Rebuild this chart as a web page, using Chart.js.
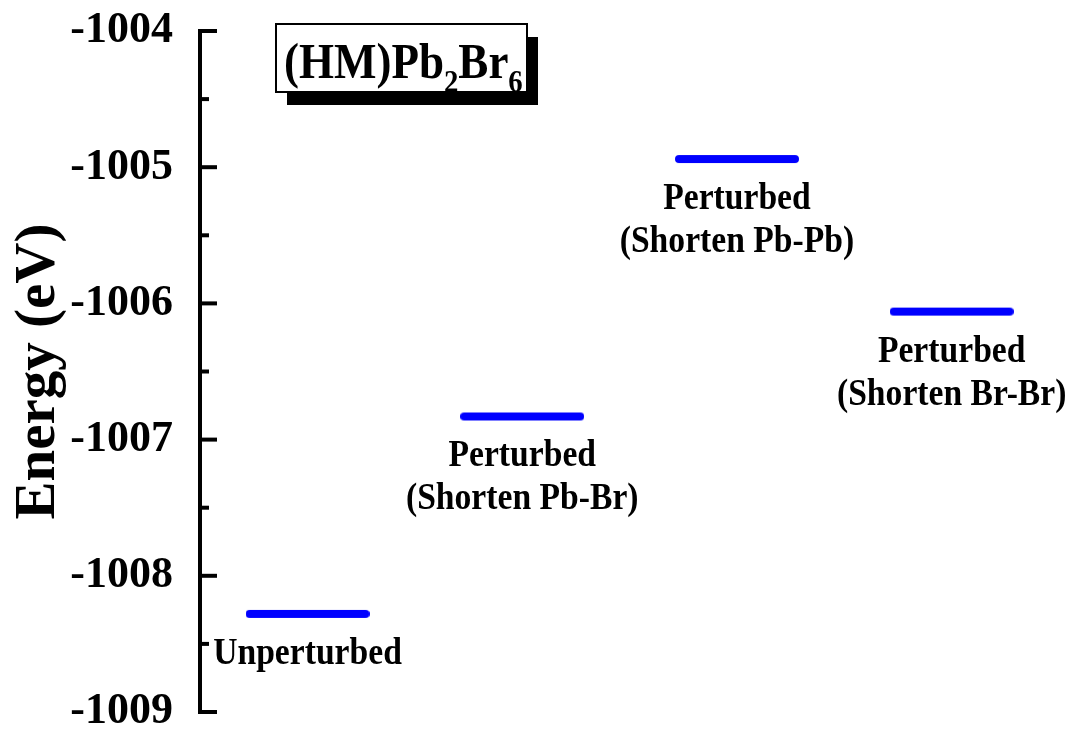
<!DOCTYPE html>
<html>
<head>
<meta charset="utf-8">
<title>(HM)Pb2Br6 energy levels</title>
<script src="https://cdn.jsdelivr.net/npm/chart.js@4.4.0/dist/chart.umd.min.js"></script>
<style>
  html, body { margin: 0; padding: 0; background: #fff; }
</style>
</head>
<body>
<canvas id="energyChart" width="1073" height="736"></canvas>
<script>
// Datos
const states = ['Unperturbed', 'Perturbed (Shorten Pb-Br)', 'Perturbed (Shorten Pb-Pb)', 'Perturbed (Shorten Br-Br)'];
const stateLines = [['Unperturbed'], ['Perturbed', '(Shorten Pb-Br)'], ['Perturbed', '(Shorten Pb-Pb)'], ['Perturbed', '(Shorten Br-Br)']];
const energies = [-1008.28, -1006.83, -1004.94, -1006.06];
const yTicks = [-1009, -1008, -1007, -1006, -1005, -1004];

const serif = '"Liberation Serif", "Times New Roman", serif';
const levelColor = '#0000ff';

// Marca de nivel: linea horizontal con extremos redondeados
const levelMark = document.createElement('canvas');
levelMark.width = 124;
levelMark.height = 12;
(function () {
    const c = levelMark.getContext('2d');
    c.strokeStyle = levelColor;
    c.lineWidth = 8;
    c.lineCap = 'round';
    c.beginPath();
    c.moveTo(4, 6);
    c.lineTo(120, 6);
    c.stroke();
})();

// Texto algo estrecho, como en la figura original
function drawNarrow(ctx, text, x, y, sx) {
    ctx.save();
    ctx.translate(x, y);
    ctx.scale(sx, 1);
    ctx.fillText(text, 0, 0);
    ctx.restore();
}

// Plugin: eje con marcas hacia dentro, etiquetas de cada nivel y recuadro del compuesto
const energyOverlay = {
    id: 'energyOverlay',
    afterDraw(chart) {
        const { ctx, chartArea } = chart;
        const x = chart.scales.x;
        const y = chart.scales.y;
        const axisX = chartArea.left + 2;

        ctx.save();
        ctx.strokeStyle = '#000';
        ctx.lineWidth = 4;
        ctx.lineCap = 'butt';

        // linea del eje
        const top = y.getPixelForValue(yTicks[yTicks.length - 1]);
        const bottom = y.getPixelForValue(yTicks[0]);
        ctx.beginPath();
        ctx.moveTo(axisX, top - 2);
        ctx.lineTo(axisX, bottom + 2);
        ctx.stroke();

        // marcas mayores y menores
        yTicks.forEach((v, i) => {
            const py = y.getPixelForValue(v);
            ctx.beginPath();
            ctx.moveTo(axisX, py);
            ctx.lineTo(axisX + 17, py);
            ctx.stroke();
            if (i < yTicks.length - 1) {
                const pm = y.getPixelForValue((v + yTicks[i + 1]) / 2);
                ctx.beginPath();
                ctx.moveTo(axisX, pm);
                ctx.lineTo(axisX + 9, pm);
                ctx.stroke();
            }
        });

        // etiquetas de los estados
        ctx.fillStyle = '#000';
        ctx.textAlign = 'center';
        ctx.textBaseline = 'alphabetic';
        ctx.font = 'bold 38px ' + serif;
        stateLines.forEach((lines, i) => {
            const px = x.getPixelForValue(i);
            const py = y.getPixelForValue(energies[i]);
            lines.forEach((t, k) => drawNarrow(ctx, t, px, py + 50 + k * 43, 0.885));
        });

        // recuadro con sombra
        const bx = 276, by = 24, bw = 251, bh = 68;
        ctx.fillStyle = '#000';
        ctx.fillRect(bx + 11, by + 13, bw, bh);
        ctx.fillStyle = '#fff';
        ctx.fillRect(bx, by, bw, bh);
        ctx.lineWidth = 2;
        ctx.strokeRect(bx, by, bw, bh);

        // (HM)Pb2Br6 con subindices
        ctx.fillStyle = '#000';
        ctx.textAlign = 'left';
        ctx.save();
        ctx.translate(284, 78);
        ctx.scale(0.9, 1);
        const parts = [['(HM)Pb', false], ['2', true], ['Br', false], ['6', true]];
        let cx = 0;
        parts.forEach(([t, sub]) => {
            ctx.font = 'bold ' + (sub ? 32 : 50) + 'px ' + serif;
            ctx.fillText(t, cx, sub ? 14 : 0);
            cx += ctx.measureText(t).width;
        });
        ctx.restore();

        ctx.restore();
    }
};

const ctx = document.getElementById('energyChart').getContext('2d');

const energyChart = new Chart(ctx, {
    type: 'scatter',
    data: {
        labels: states,
        datasets: [{
            label: 'Energy (eV)',
            data: energies.map((e, i) => ({ x: i, y: e })),
            pointStyle: levelMark,
            pointRadius: 62,
            pointHoverRadius: 62,
            showLine: false
        }]
    },
    options: {
        responsive: false,
        animation: false,
        layout: {
            autoPadding: false,
            padding: { left: 5, top: 31, bottom: 24, right: 0 }
        },
        plugins: {
            legend: { display: false },
            tooltip: { enabled: false }
        },
        scales: {
            x: {
                type: 'linear',
                min: -0.51,
                max: 3.565,
                display: false
            },
            y: {
                min: -1009,
                max: -1004,
                afterBuildTicks: scale => {
                    scale.ticks = yTicks.map(v => ({ value: v }));
                },
                afterFit: scale => {
                    scale.width = 193;
                    scale.paddingTop = 0;
                    scale.paddingBottom = 0;
                },
                grid: { display: false },
                border: { display: false },
                ticks: {
                    color: '#000',
                    padding: 17,
                    font: { family: serif, size: 44, weight: 'bold', lineHeight: 0.3 },
                    callback: v => String(v)
                },
                title: {
                    display: true,
                    text: 'Energy (eV)',
                    color: '#000',
                    padding: 0,
                    font: { family: serif, size: 57, weight: 'bold', lineHeight: 1.2 }
                }
            }
        }
    },
    plugins: [energyOverlay]
});
</script>
</body>
</html>
